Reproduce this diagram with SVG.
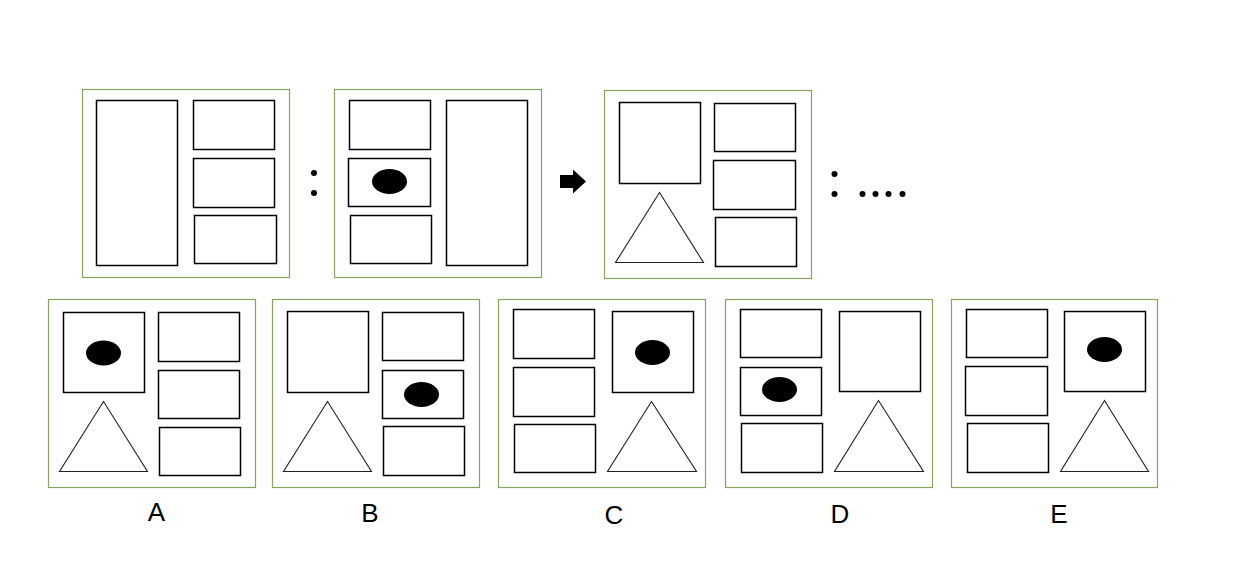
<svg xmlns="http://www.w3.org/2000/svg" width="1240" height="570" viewBox="0 0 1240 570">
<style>
.frame{fill:#fff;stroke:#86a45e;stroke-width:1.2}
.box{fill:#fff;stroke:#000;stroke-width:1.5}
.tri{fill:#fff;stroke:#222;stroke-width:1.1}
.dot{fill:#000}
.lbl{font-family:"Liberation Sans",Arial,sans-serif;font-size:26px;fill:#000;text-anchor:middle}
</style>
<rect width="1240" height="570" fill="#fff"/>
<g id="fig1">
<rect class="frame" x="82.5" y="89.5" width="207" height="188"/>
<rect class="box" x="96.5" y="100.5" width="81" height="165"/>
<rect class="box" x="193.5" y="100.5" width="81" height="49"/>
<rect class="box" x="193.5" y="158.5" width="81" height="49"/>
<rect class="box" x="194.5" y="215.5" width="82" height="48"/>
</g>
<g id="colon1">
<circle class="dot" cx="314" cy="173" r="3"/>
<circle class="dot" cx="314" cy="193" r="3"/>
</g>
<g id="fig2">
<rect class="frame" x="334.5" y="89.5" width="207" height="188"/>
<rect class="box" x="349.5" y="100.5" width="81" height="49"/>
<rect class="box" x="348.5" y="158.5" width="82" height="48"/>
<ellipse class="dot" cx="389.5" cy="181.5" rx="17.5" ry="12.5"/>
<rect class="box" x="350.5" y="215.5" width="81" height="48"/>
<rect class="box" x="446.5" y="100.5" width="81" height="165"/>
</g>
<g id="arrow">
<polygon class="dot" points="560,175 573,175 573,169.5 586,181.5 573,193.5 573,188 560,188"/>
</g>
<g id="fig3">
<rect class="frame" x="604.5" y="90.5" width="207" height="188"/>
<rect class="box" x="619.5" y="102.5" width="81" height="81"/>
<polygon class="tri" points="659.5,192.5 615.5,262.5 703.5,262.5"/>
<rect class="box" x="714.5" y="103.5" width="81" height="48"/>
<rect class="box" x="713.5" y="160.5" width="82" height="49"/>
<rect class="box" x="715.5" y="217.5" width="81" height="49"/>
</g>
<g id="colon2">
<circle class="dot" cx="834.5" cy="174" r="3"/>
<circle class="dot" cx="834.5" cy="194" r="3"/>
<circle class="dot" cx="862.5" cy="194" r="3"/>
<circle class="dot" cx="875.5" cy="194" r="3"/>
<circle class="dot" cx="888.5" cy="194" r="3"/>
<circle class="dot" cx="902.5" cy="194" r="3"/>
</g>
<g id="optA">
<rect class="frame" x="48.5" y="299.5" width="207" height="188"/>
<rect class="box" x="63.5" y="312.5" width="81" height="80"/>
<ellipse class="dot" cx="103.5" cy="353" rx="17.5" ry="12.5"/>
<polygon class="tri" points="103.5,401.5 59.5,471.5 147.5,471.5"/>
<rect class="box" x="158.5" y="312.5" width="81" height="49"/>
<rect class="box" x="158.5" y="370.5" width="81" height="48"/>
<rect class="box" x="159.5" y="427.5" width="81" height="48"/>
<text class="lbl" x="156.5" y="521">A</text>
</g>
<g id="optB">
<rect class="frame" x="272.5" y="299.5" width="207" height="188"/>
<rect class="box" x="287.5" y="311.5" width="81" height="81"/>
<polygon class="tri" points="327.5,401.5 283.5,471.5 371.5,471.5"/>
<rect class="box" x="382.5" y="312.5" width="81" height="48"/>
<rect class="box" x="382.5" y="370.5" width="81" height="48"/>
<ellipse class="dot" cx="421.5" cy="394.5" rx="17.5" ry="12.5"/>
<rect class="box" x="383.5" y="426.5" width="81" height="49"/>
<text class="lbl" x="370" y="522">B</text>
</g>
<g id="optC">
<rect class="frame" x="498.5" y="299.5" width="207" height="188"/>
<rect class="box" x="513.5" y="309.5" width="81" height="49"/>
<rect class="box" x="513.5" y="367.5" width="81" height="49"/>
<rect class="box" x="514.5" y="424.5" width="81" height="48"/>
<rect class="box" x="612.5" y="311.5" width="81" height="81"/>
<ellipse class="dot" cx="652.5" cy="352.5" rx="17.5" ry="12.5"/>
<polygon class="tri" points="651.5,401.5 607.5,471.5 696.5,471.5"/>
<text class="lbl" x="614" y="524">C</text>
</g>
<g id="optD">
<rect class="frame" x="725.5" y="299.5" width="207" height="188"/>
<rect class="box" x="740.5" y="309.5" width="81" height="48"/>
<rect class="box" x="740.5" y="367.5" width="81" height="48"/>
<ellipse class="dot" cx="779.5" cy="389.5" rx="17.5" ry="12.5"/>
<rect class="box" x="741.5" y="423.5" width="81" height="49"/>
<rect class="box" x="839.5" y="311.5" width="81" height="80"/>
<polygon class="tri" points="878.5,400.5 834.5,471.5 923.5,471.5"/>
<text class="lbl" x="840" y="523">D</text>
</g>
<g id="optE">
<rect class="frame" x="951.5" y="299.5" width="206" height="188"/>
<rect class="box" x="966.5" y="309.5" width="81" height="48"/>
<rect class="box" x="965.5" y="366.5" width="82" height="49"/>
<rect class="box" x="967.5" y="423.5" width="81" height="49"/>
<rect class="box" x="1064.5" y="311.5" width="81" height="80"/>
<ellipse class="dot" cx="1104.5" cy="349.5" rx="17.5" ry="12.5"/>
<polygon class="tri" points="1104.5,400.5 1060.5,471.5 1148.5,471.5"/>
<text class="lbl" x="1059" y="523">E</text>
</g>
</svg>
